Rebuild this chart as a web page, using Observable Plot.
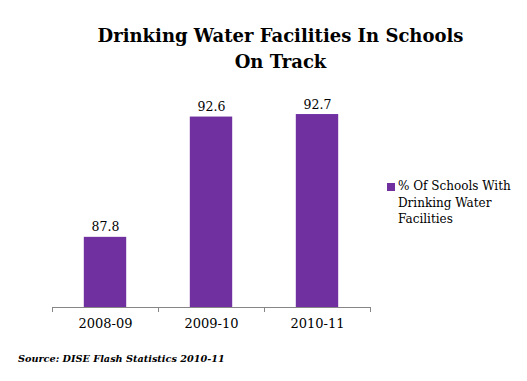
<!DOCTYPE html>
<html><head><meta charset="utf-8">
<script src="https://cdn.jsdelivr.net/npm/d3@7"></script>
<script src="https://cdn.jsdelivr.net/npm/@observablehq/plot@0.6"></script>
<style>
body{margin:0;background:#fff;}
#wrap{position:relative;width:527px;height:381px;overflow:hidden;font-family:"DejaVu Serif",serif;}
#title{box-sizing:border-box;height:80px;padding:23px 0 0 34px;text-align:center;font-weight:bold;font-size:18px;line-height:26px;color:#000;}
#legend{position:absolute;left:387px;top:178px;font-size:12px;line-height:16.5px;color:#000;}
#legend .sw{position:absolute;left:0;top:5px;width:8px;height:8px;background:#7030A0;}
#legend .tx{margin-left:11px;}
#caption{padding:8px 0 0 18px;font-weight:bold;font-style:italic;font-size:9.7px;color:#000;}
svg{display:block;}
</style></head>
<body><div id="wrap">
<div id="title">Drinking Water Facilities In Schools<br>On Track</div>
<div id="chart"></div>
<div id="legend"><div class="sw"></div><div class="tx">% Of Schools With<br>Drinking Water<br>Facilities</div></div>
<div id="caption">Source: DISE Flash Statistics 2010-11</div>
</div>
<script>
const years = ["2008-09", "2009-10", "2010-11"];
const values = [87.8, 92.6, 92.7];
const seriesName = "% Of Schools With Drinking Water Facilities";
const yBase = 85;
const yTop = 93.5;

const data = years.map((y, i) => ({year: y, idx: i, value: values[i]}));
const bounds = d3.range(years.length + 1);

const chart = Plot.plot({
  width: 527,
  height: 265,
  marginLeft: 52,
  marginRight: 157,
  marginTop: 14,
  marginBottom: 38,
  style: {fontFamily: "'DejaVu Serif', serif", background: "#fff"},
  x: {domain: [0, years.length], axis: null},
  y: {domain: [yBase, yTop], axis: null},
  marks: [
    Plot.rectY(data, {x1: d => d.idx + 0.3, x2: d => d.idx + 0.7, y1: yBase, y2: "value", fill: "#7030A0"}),
    Plot.ruleY([yBase], {stroke: "#868686", strokeWidth: 1}),
    Plot.axisX(bounds, {tickSize: 5, tickFormat: () => "", stroke: "#868686", anchor: "bottom"}),
    Plot.text(data, {x: d => d.idx + 0.5, y: "value", text: d => d.value.toFixed(1), dy: -10, fontSize: 12.5, fill: "#000"}),
    Plot.text(data, {x: d => d.idx + 0.5, y: yBase, text: "year", dy: 16, fontSize: 13, fill: "#000"})
  ]
});
document.getElementById("chart").appendChild(chart);
</script>
</body></html>
